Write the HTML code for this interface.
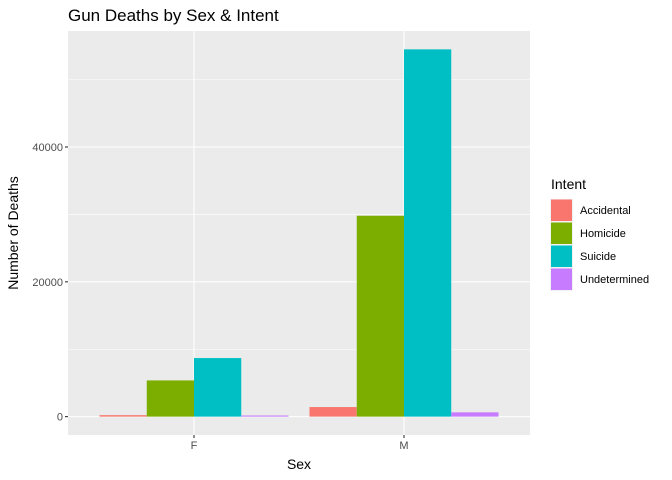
<!DOCTYPE html>
<html><head><meta charset="utf-8"><style>
body{margin:0;background:#fff;}
svg{font-family:"Liberation Sans",sans-serif;display:block;}
</style></head><body>
<svg id="chart" width="672" height="480">
<text x="68" y="21" font-size="17" fill="#000">Gun Deaths by Sex &amp; Intent</text>
<rect x="68" y="31" width="462" height="404" fill="#EBEBEB"/>
<g id="grid"></g><g id="bars"></g><g id="axes"></g>
<text x="299" y="469" font-size="14" text-anchor="middle">Sex</text>
<text transform="translate(18,233) rotate(-90)" font-size="14" text-anchor="middle">Number of Deaths</text>
<g id="legend"><text x="551" y="189" font-size="14">Intent</text></g>
</svg>
<script>
const categories=["F","M"];
const intents=["Accidental","Homicide","Suicide","Undetermined"];
const colors=["#F8766D","#7CAE00","#00BFC4","#C77CFF"];
const valuesF=[218,5373,8689,169];
const valuesM=[1421,29803,54486,638];
const series=[valuesF,valuesM];
const majorTicks=[0,20000,40000];
const minorTicks=[10000,30000,50000];
const ns="http://www.w3.org/2000/svg";
const pL=68,pR=530,pT=31,pB=435;
const maxV=Math.max(...valuesF,...valuesM);
const lo=-0.05*maxV,hi=1.05*maxV;
const y=v=>pB-(v-lo)/(hi-lo)*(pB-pT);
const unit=(pR-pL)/2.2;
const x=i=>pL+(i+1-0.4)*unit;
function mk(t,a,p){const e=document.createElementNS(ns,t);for(const k in a)e.setAttribute(k,a[k]);p.appendChild(e);return e;}
const g=document.getElementById('grid');
minorTicks.forEach(v=>{const l=mk('line',{x1:pL,x2:pR,y1:y(v),y2:y(v),stroke:'#fff','stroke-width':0.55},g);

});
majorTicks.forEach(v=>{const l=mk('line',{x1:pL,x2:pR,y1:y(v),y2:y(v),stroke:'#fff','stroke-width':1.1},g);

});
categories.forEach((c,i)=>{const l=mk('line',{x1:x(i),x2:x(i),y1:pT,y2:pB,stroke:'#fff','stroke-width':1.1},g);

});
const b=document.getElementById('bars');
const bw=0.9*unit/intents.length;
categories.forEach((c,i)=>{series[i].forEach((v,j)=>{
const r=mk('rect',{x:x(i)-0.45*unit+j*bw,y:y(v),width:bw,height:y(0)-y(v),fill:colors[j]},b);

});});
const a=document.getElementById('axes');
majorTicks.forEach(v=>{mk('line',{x1:pL-3,x2:pL,y1:y(v),y2:y(v),stroke:'#333','stroke-width':1.1},a);
const t=mk('text',{x:pL-5,y:y(v)+4,'font-size':11,fill:'#4D4D4D','text-anchor':'end'},a);t.textContent=v;

});
categories.forEach((c,i)=>{mk('line',{x1:x(i),x2:x(i),y1:pB,y2:pB+3,stroke:'#333','stroke-width':1.1},a);
const t=mk('text',{x:x(i),y:pB+14,'font-size':11,fill:'#4D4D4D','text-anchor':'middle'},a);t.textContent=c;

});
const lg=document.getElementById('legend');
intents.forEach((n,j)=>{const yy=199+j*23;
mk('rect',{x:550,y:yy,width:23,height:23,fill:'#F2F2F2'},lg);
const r=mk('rect',{x:551,y:yy+0.5,width:21,height:21.5,fill:colors[j]},lg);


const t=mk('text',{x:580,y:yy+15,'font-size':11,fill:'#000'},lg);t.textContent=n;

});
</script>
</body></html>
